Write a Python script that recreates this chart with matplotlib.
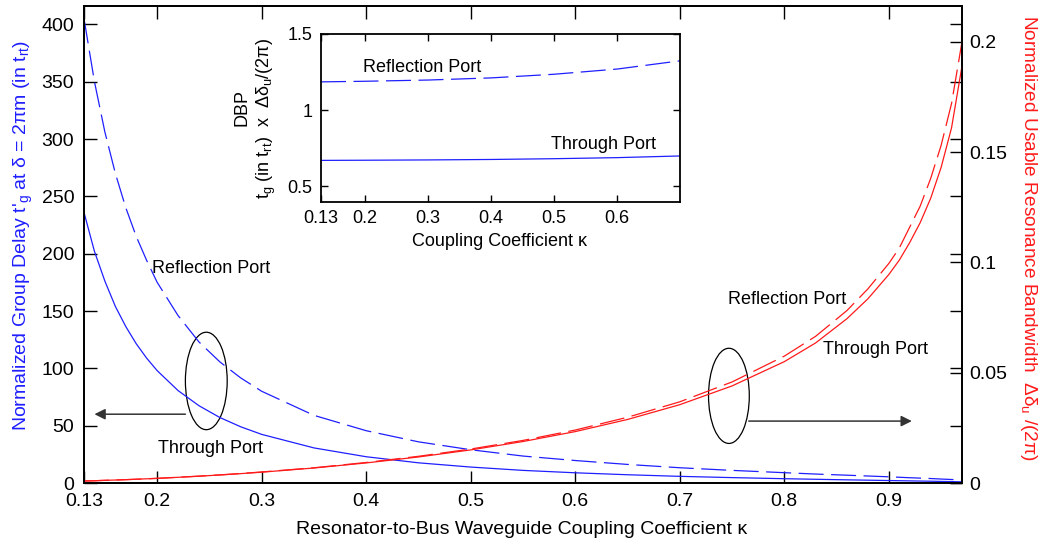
import matplotlib
matplotlib.use('Agg')
import matplotlib.pyplot as plt
from matplotlib.patches import Ellipse

plt.rcParams['font.family'] = ['Liberation Sans', 'DejaVu Sans']
plt.rcParams['mathtext.fontset'] = 'custom'
plt.rcParams['mathtext.rm'] = 'Liberation Sans'
plt.rcParams['mathtext.it'] = 'Liberation Sans:italic'
plt.rcParams['mathtext.default'] = 'regular'

# main plot data
kappa = [0.13, 0.14, 0.15, 0.16, 0.17, 0.18, 0.19, 0.2, 0.22, 0.24, 0.26, 0.28,
         0.3, 0.35, 0.4, 0.45, 0.5, 0.55, 0.6, 0.65, 0.7, 0.75, 0.8, 0.83,
         0.86, 0.88, 0.9, 0.91, 0.92, 0.93, 0.94, 0.95, 0.96, 0.97]
delay_through = [236, 202, 176, 154, 136.4, 121.4, 108.8, 98, 80.6, 67.4, 57.1, 49.0,
                 42.4, 30.6, 22.9, 17.6, 13.9, 11.0, 8.9, 7.2, 5.8, 4.7, 3.75, 3.24,
                 2.76, 2.45, 2.15, 2.0, 1.85, 1.7, 1.55, 1.38, 1.22, 1.03]
delay_reflection = [405, 350, 306, 270, 240, 215, 194, 175, 146, 123, 105.6, 91.6,
                    80, 59, 45.6, 35.9, 29.0, 23.5, 19.6, 16.2, 13.3, 11.0, 9.0, 7.8,
                    6.8, 6.1, 5.4, 5.0, 4.6, 4.25, 3.9, 3.45, 3.05, 2.6]
bw_through = [0.0009, 0.00103, 0.0012, 0.00135, 0.00152, 0.0017, 0.00191, 0.0021,
              0.00258, 0.00309, 0.00364, 0.00425, 0.0049, 0.0068, 0.0091, 0.0118,
              0.0150, 0.0188, 0.0233, 0.0288, 0.0355, 0.0440, 0.0550, 0.0635,
              0.0745, 0.0835, 0.0945, 0.101, 0.109, 0.118, 0.129, 0.143, 0.161, 0.189]
bw_reflection = [0.0009, 0.00103, 0.0012, 0.00135, 0.00152, 0.0017, 0.00191, 0.0021,
                 0.0026, 0.0031, 0.00367, 0.0043, 0.0050, 0.0069, 0.0093, 0.0121,
                 0.0154, 0.0193, 0.0240, 0.0298, 0.0368, 0.0458, 0.0575, 0.0665,
                 0.0782, 0.0880, 0.0995, 0.1065, 0.116, 0.1255, 0.138, 0.153, 0.172, 0.200]

# inset data (delay-bandwidth product)
inset_kappa = [0.13, 0.2, 0.3, 0.4, 0.5, 0.6, 0.7]
dbp_through = [0.671, 0.672, 0.674, 0.677, 0.682, 0.689, 0.700]
dbp_reflection = [1.186, 1.190, 1.198, 1.212, 1.236, 1.270, 1.324]

x_ticks = [0.13, 0.2, 0.3, 0.4, 0.5, 0.6, 0.7, 0.8, 0.9]
x_ticklabels = ['0.13', '0.2', '0.3', '0.4', '0.5', '0.6', '0.7', '0.8', '0.9']
left_ticks = [0, 50, 100, 150, 200, 250, 300, 350, 400]
right_ticks = [0, 0.05, 0.1, 0.15, 0.2]
right_ticklabels = ['0', '0.05', '0.1', '0.15', '0.2']
inset_xticks = [0.13, 0.2, 0.3, 0.4, 0.5, 0.6]
inset_xticklabels = ['0.13', '0.2', '0.3', '0.4', '0.5', '0.6']
inset_yticks = [0.5, 1.0, 1.5]
inset_yticklabels = ['0.5', '1', '1.5']

W, H = 1043, 546
fig = plt.figure(figsize=(W / 100, H / 100), dpi=100)

ax = fig.add_axes([84 / W, 1 - 483 / H, 878 / W, 477 / H])
ax2 = ax.twinx()

blue, red = '#1f1fff', '#ff1a1a'
dash = (20, 6)
ax.plot(kappa, delay_through, color=blue, lw=0.9)
ax.plot(kappa, delay_reflection, color=blue, lw=0.9, dashes=dash)
ax2.plot(kappa, bw_through, color=red, lw=0.9)
ax2.plot(kappa, bw_reflection, color=red, lw=0.9, dashes=dash)

ax.set_xlim(0.13, 0.97)
ax.set_ylim(0, 416)
ax2.set_ylim(0, 0.2162)
ax.set_xticks(x_ticks)
ax.set_xticklabels(x_ticklabels)
ax.set_yticks(left_ticks)
ax2.set_yticks(right_ticks)
ax2.set_yticklabels(right_ticklabels)

ax.tick_params(direction='in', top=True, right=True, length=9, width=1,
               labelsize=14, pad=7)
ax2.tick_params(direction='in', length=9, width=1, labelsize=14, pad=5)
for a in (ax, ax2):
    for s in a.spines.values():
        s.set_linewidth(1.3)

# ellipses + arrows marking which axis each pair belongs to
ax.add_patch(Ellipse((0.247, 89), 0.040, 85, fill=False, edgecolor='black', lw=0.9))
ax.add_patch(Ellipse((0.747, 76), 0.039, 83, fill=False, edgecolor='black', lw=0.9))
ax.annotate('', xy=(0.14, 60), xytext=(0.227, 60),
            arrowprops=dict(arrowstyle='-|>', color='#333333', lw=1.1,
                            mutation_scale=16, shrinkA=0, shrinkB=0))
ax.annotate('', xy=(0.922, 54), xytext=(0.766, 54),
            arrowprops=dict(arrowstyle='-|>', color='#333333', lw=1.1,
                            mutation_scale=16, shrinkA=0, shrinkB=0))

ax.text(0.195, 187, 'Reflection Port', fontsize=13, va='center')
ax.text(0.201, 30.5, 'Through Port', fontsize=13, va='center')
ax.text(0.746, 160, 'Reflection Port', fontsize=13, va='center')
ax.text(0.837, 116, 'Through Port', fontsize=13, va='center')

fig.text(522 / W, 1 - 530 / H, r'Resonator-to-Bus Waveguide Coupling Coefficient κ',
         fontsize=14, ha='center', va='center')
fig.text(23 / W, 1 - 235 / H,
         r"Normalized Group Delay t$'_{\rm g}$ at δ = 2πm (in t$_{\rm rt}$)",
         fontsize=14, color=blue, rotation=90, ha='center', va='center')
fig.text(1028 / W, 1 - 238 / H,
         r'Normalized Usable Resonance Bandwidth  Δδ$_{\rm u}$ /(2π)',
         fontsize=13.7, color=red, rotation=270, ha='center', va='center')

# inset
ins = fig.add_axes([321 / W, 1 - 201.7 / H, 359 / W, 167.7 / H])
ins.set_facecolor('white')
ins.plot(inset_kappa, dbp_through, color=blue, lw=0.9)
ins.plot(inset_kappa, dbp_reflection, color=blue, lw=0.9, dashes=dash)
ins.set_xlim(0.13, 0.7)
ins.set_ylim(0.4, 1.5)
ins.set_xticks(inset_xticks)
ins.set_xticklabels(inset_xticklabels)
ins.set_yticks(inset_yticks)
ins.set_yticklabels(inset_yticklabels)
ins.tick_params(direction='in', top=True, right=True, length=5, width=1,
                labelsize=13, pad=6)
for s in ins.spines.values():
    s.set_linewidth(1.3)
ins.text(0.196, 1.279, 'Reflection Port', fontsize=13, va='center')
ins.text(0.495, 0.772, 'Through Port', fontsize=13, va='center')
fig.text(500 / W, 1 - 241 / H, 'Coupling Coefficient κ', fontsize=13,
         ha='center', va='center')
fig.text(242 / W, 1 - 108 / H, 'DBP', fontsize=13, rotation=90,
         ha='center', va='center')
fig.text(266 / W, 1 - 118 / H,
         r't$_{\rm g}$ (in t$_{\rm rt}$)  x  Δδ$_{\rm u}$/(2π)',
         fontsize=13, rotation=90, ha='center', va='center')

fig.savefig('out.png', dpi=100)
